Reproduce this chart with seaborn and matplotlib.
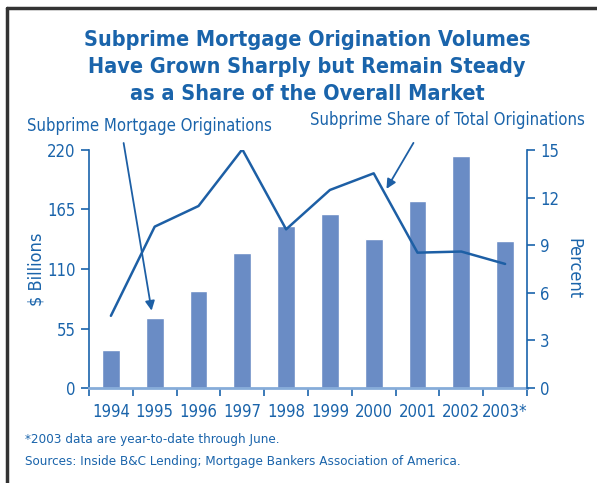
import numpy as np
import pandas as pd
import seaborn as sns
import matplotlib.pyplot as plt
from matplotlib.lines import Line2D

years = ['1994', '1995', '1996', '1997', '1998', '1999', '2000', '2001', '2002', '2003*']
volumes = [35, 65, 90, 125, 150, 161, 138, 173, 214, 136]
share = [4.55, 10.17, 11.47, 15.04, 10.0, 12.48, 13.53, 8.53, 8.6, 7.82]
left_ticks = [0, 55, 110, 165, 220]
right_ticks = [0, 3, 6, 9, 12, 15]

blue_txt = '#1a64ab'
bar_col = '#6a8cc5'
line_col = '#1d5fa5'

sns.set_style('white')
plt.rcParams['font.family'] = ['DejaVu Sans']
plt.rcParams['font.stretch'] = 'condensed'

df = pd.DataFrame({'year': years, 'vol': volumes, 'share': share})

fig = plt.figure(figsize=(5.97, 4.83), dpi=100)
ax = fig.add_axes([89 / 597, 1 - 388 / 483, (527 - 89) / 597, (388 - 150) / 483])
sns.barplot(data=df, x='year', y='vol', color=bar_col, width=0.41, saturation=1, ax=ax)
ax.set_xlim(-0.5, len(years) - 0.5)
ax.set_ylim(0, 220)
ax.set_yticks(left_ticks)
ax.set_xlabel('')
ax.set_ylabel(r'\$ Billions', color=blue_txt, fontsize=13, labelpad=1)
ax.tick_params(axis='y', colors=blue_txt, labelsize=12, length=6, width=1.2, direction='out', left=True)
ax.set_xticks(range(len(years)))
ax.set_xticklabels(years)
ax.tick_params(axis='x', which='major', length=0, labelsize=12, labelcolor=blue_txt, pad=11)
ax.set_xticks(np.arange(-0.5, len(years)), minor=True)
ax.tick_params(axis='x', which='minor', length=6, width=1.2, color=blue_txt, direction='out', bottom=True)

for s in ['top', 'right']:
    ax.spines[s].set_visible(False)
ax.spines['left'].set_color(blue_txt)
ax.spines['left'].set_linewidth(1.2)
ax.spines['bottom'].set_color('#86acd9')
ax.spines['bottom'].set_linewidth(2)

ax2 = ax.twinx()
sns.lineplot(x=np.arange(len(years)), y=df['share'], color=line_col, linewidth=1.8, ax=ax2)
ax2.set_ylim(0, 15)
ax2.set_yticks(right_ticks)
ax2.set_ylabel('Percent', color=blue_txt, fontsize=13, rotation=-90, labelpad=17)
ax2.tick_params(axis='y', colors=blue_txt, labelsize=12, length=6, width=1.2, direction='out', right=True)
for s in ['top', 'left', 'bottom']:
    ax2.spines[s].set_visible(False)
ax2.spines['right'].set_color(blue_txt)
ax2.spines['right'].set_linewidth(1.2)
ax2.set_xlim(-0.5, len(years) - 0.5)

# annotation arrows
ax.annotate('', xy=(0.94, 69), xytext=(0.28, 229), annotation_clip=False,
            arrowprops=dict(arrowstyle='-|>', color=line_col, lw=1.3, mutation_scale=14))
ax2.annotate('', xy=(6.26, 12.4), xytext=(6.94, 15.6), annotation_clip=False,
             arrowprops=dict(arrowstyle='-|>', color=line_col, lw=1.3, mutation_scale=14))

fig.text(27 / 597, 1 - 126 / 483, 'Subprime Mortgage Originations', color=blue_txt,
         fontsize=12, va='center', ha='left')
fig.text(585 / 597, 1 - 120 / 483, 'Subprime Share of Total Originations', color=blue_txt,
         fontsize=12, va='center', ha='right')

title = 'Subprime Mortgage Origination Volumes\nHave Grown Sharply but Remain Steady\nas a Share of the Overall Market'
fig.text(307 / 597, 1 - 67 / 483, title, color=blue_txt, fontsize=15.5, fontweight='bold',
         ha='center', va='center', linespacing=1.42)

fig.text(25 / 597, 1 - 440 / 483, '*2003 data are year-to-date through June.', color=blue_txt,
         fontsize=9.6, va='center')
fig.text(25 / 597, 1 - 461 / 483, 'Sources: Inside B&C Lending; Mortgage Bankers Association of America.',
         color=blue_txt, fontsize=9.6, va='center')

# frame lines top and left
fig.add_artist(Line2D([7 / 597, 1], [1 - 7.5 / 483, 1 - 7.5 / 483], color='#333333', lw=2.5))
fig.add_artist(Line2D([7 / 597, 7 / 597], [0, 1 - 7.5 / 483], color='#333333', lw=2.5))

fig.savefig('out.png', dpi=100)
